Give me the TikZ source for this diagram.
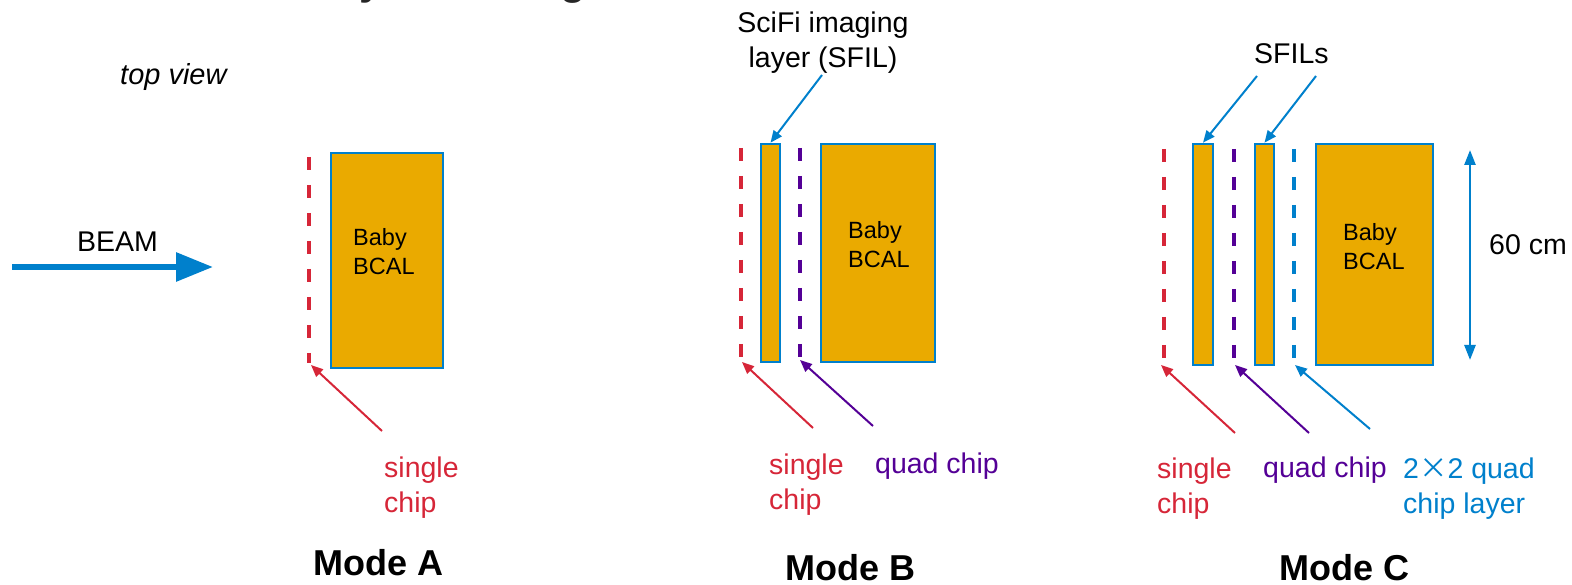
\documentclass[tikz,border=0pt]{standalone}
\usepackage{fontspec}
\setmainfont{Liberation Sans}
\newfontfamily\cjkf{Noto Sans CJK SC}
\usetikzlibrary{arrows.meta}
\definecolor{bcalorange}{RGB}{234,170,0}
\definecolor{edgeblue}{RGB}{0,128,204}
\definecolor{chipred}{RGB}{214,38,56}
\definecolor{chippurple}{RGB}{84,0,150}
\definecolor{titlegray}{RGB}{38,38,38}
\tikzset{
  lbl/.style={font=\fontsize{28.5}{35}\selectfont, inner sep=0pt, align=left},
  bcaltext/.style={font=\fontsize{23.5}{29}\selectfont, inner sep=0pt, align=left},
  modelbl/.style={font=\bfseries\fontsize{36}{40}\selectfont, inner sep=0pt},
  detbox/.style={draw=edgeblue, line width=2.6pt, fill=bcalorange, inner sep=0pt, anchor=center},
  chipline/.style={line width=3.4pt, dash pattern=on 13pt off 15pt},
  ptr/.style={line width=2pt, -{Triangle[length=12pt,width=10pt]}},
}
\begin{document}
\begin{tikzpicture}[x=1pt,y=-1pt]
\useasboundingbox (0,0) rectangle (1572,585);
\clip (0,0) rectangle (1572,585);

% cut-off title fragments
\node[font=\bfseries\fontsize{42}{46}\selectfont, text=titlegray, inner sep=0pt, anchor=base] (ty) at (371,-5) {y};
\node[font=\bfseries\fontsize{42}{46}\selectfont, text=titlegray, inner sep=0pt, anchor=base] (tg) at (573,-5) {g};

\node[font=\itshape\fontsize{29}{34}\selectfont, inner sep=0pt, anchor=base west] (topview) at (120,85) {top view};

% BEAM
\node[lbl, anchor=base west] (beam) at (77,252) {BEAM};
\coordinate (beamS) at (12,267);
\coordinate (beamE) at (213,267);
\draw[edgeblue, line width=6pt, -{Triangle[length=37pt,width=28pt]}] (beamS) -- (beamE);

% ---------------- Mode A ----------------
\node[detbox, minimum width=112pt, minimum height=215pt] (bcalA) at (387,260.5) {};
\node[bcaltext, anchor=north west] (bcalAt) at (353,228) {Baby\\BCAL};
\coordinate (rAt) at (309,157);
\coordinate (rAb) at (309,363);
\draw[chipline, chipred] (rAt) -- (rAb);
\coordinate (rAs) at (382,431);
\coordinate (rAe) at (311,365);
\draw[ptr, chipred] (rAs) -- (rAe);
\node[lbl, text=chipred, anchor=north west] (singleA) at (384,457) {single\\chip};
\node[modelbl, anchor=base west] (modeA) at (313,575) {Mode A};

% ---------------- Mode B ----------------
\node[detbox, minimum width=19pt, minimum height=218pt] (sfilB) at (770.5,253) {};
\node[detbox, minimum width=114pt, minimum height=218pt] (bcalB) at (878,253) {};
\node[bcaltext, anchor=north west] (bcalBt) at (848,221) {Baby\\BCAL};
\coordinate (rBt) at (741,148);
\coordinate (rBb) at (741,358);
\draw[chipline, chipred] (rBt) -- (rBb);
\coordinate (pBt) at (800,148);
\coordinate (pBb) at (800,358);
\draw[chipline, chippurple] (pBt) -- (pBb);
\coordinate (rBs) at (813,428);
\coordinate (rBe) at (742,362);
\draw[ptr, chipred] (rBs) -- (rBe);
\coordinate (pBs) at (873,426);
\coordinate (pBe) at (800,360);
\draw[ptr, chippurple] (pBs) -- (pBe);
\node[lbl, text=chipred, anchor=north west] (singleB) at (769,454) {single\\chip};
\node[lbl, text=chippurple, anchor=base west] (quadB) at (875,473) {quad chip};
\node[lbl, align=center, anchor=north] (sfilBt) at (823,12) {SciFi imaging\\layer (SFIL)};
\coordinate (sBs) at (822,75);
\draw[ptr, edgeblue] (sBs) -- (sfilB.north);
\node[modelbl, anchor=base west] (modeB) at (785,580) {Mode B};

% ---------------- Mode C ----------------
\node[detbox, minimum width=20pt, minimum height=221pt] (sfilC1) at (1203,254.5) {};
\node[detbox, minimum width=19pt, minimum height=221pt] (sfilC2) at (1264.5,254.5) {};
\node[detbox, minimum width=117pt, minimum height=221pt] (bcalC) at (1374.5,254.5) {};
\node[bcaltext, anchor=north west] (bcalCt) at (1343,223) {Baby\\BCAL};
\coordinate (rCt) at (1164,149);
\coordinate (rCb) at (1164,360);
\draw[chipline, chipred] (rCt) -- (rCb);
\coordinate (pCt) at (1234,149);
\coordinate (pCb) at (1234,360);
\draw[chipline, chippurple] (pCt) -- (pCb);
\coordinate (bCt) at (1294,149);
\coordinate (bCb) at (1294,360);
\draw[chipline, edgeblue] (bCt) -- (bCb);
\coordinate (rCs) at (1235,433);
\coordinate (rCe) at (1161,365);
\draw[ptr, chipred] (rCs) -- (rCe);
\coordinate (pCs) at (1309,433);
\coordinate (pCe) at (1235,365);
\draw[ptr, chippurple] (pCs) -- (pCe);
\coordinate (bCs) at (1370,429);
\coordinate (bCe) at (1295,365);
\draw[ptr, edgeblue] (bCs) -- (bCe);
\node[lbl, anchor=base west] (sfilCt) at (1254,64) {SFILs};
\coordinate (s1s) at (1257,76);
\coordinate (s2s) at (1316,76);
\draw[ptr, edgeblue] (s1s) -- (sfilC1.north);
\draw[ptr, edgeblue] (s2s) -- (sfilC2.north);
% dimension
\coordinate (dimT) at (1470,150);
\coordinate (dimB) at (1470,360);
\draw[edgeblue, line width=2.5pt, {Triangle[length=15pt,width=11pt]}-{Triangle[length=15pt,width=11pt]}] (dimT) -- (dimB);
\node[lbl, anchor=base west] (dimlbl) at (1489,255) {60 cm};
\node[lbl, text=chipred, anchor=north west] (singleC) at (1157,458) {single\\chip};
\node[lbl, text=chippurple, anchor=base west] (quadC) at (1263,477) {quad chip};
\node[lbl, text=edgeblue, anchor=north west] (quadlayerC) at (1403,458) {2{\cjkf ×}2 quad\\chip layer};
\node[modelbl, anchor=base west] (modeC) at (1279,580) {Mode C};
\end{tikzpicture}
\end{document}
